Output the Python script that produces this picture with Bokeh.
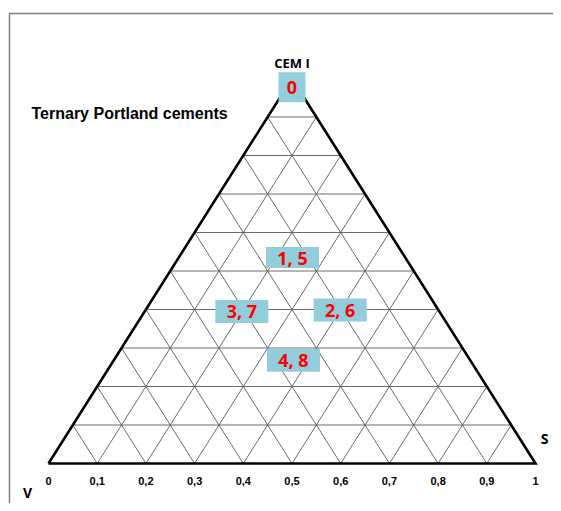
from bokeh.plotting import figure
from bokeh.embed import file_html
from bokeh.resources import INLINE
from bokeh.core.properties import value

# ---- data ----
divisions = [i / 10 for i in range(11)]
tick_labels = ["0", "0,1", "0,2", "0,3", "0,4", "0,5", "0,6", "0,7", "0,8", "0,9", "1"]
point_labels = ["0", "1, 5", "2, 6", "3, 7", "4, 8"]
point_x = [0.5, 0.501, 0.599, 0.397, 0.503]
point_y = [0.977, 0.535, 0.399, 0.395, 0.268]
point_w = [27, 53, 53, 53, 53]
point_h = [30, 21, 23, 23, 23]

XPX, YPX = 487.0, 385.0
W, H = 553, 503
x0c, y0c = 48.0, 463.0  # canvas position of data origin
p = figure(width=W, height=H, output_backend="svg", toolbar_location=None,
           x_range=(-x0c / XPX, (W - x0c) / XPX),
           y_range=(-(H - y0c) / YPX, y0c / YPX),
           min_border=0)
p.axis.visible = False
p.grid.visible = False
p.outline_line_color = None
p.background_fill_color = "white"
p.border_fill_color = "white"

# page frame (left and top edges)
bx = (9 - 48) / XPX
by = (463 - 13) / YPX
p.line([bx, bx, 2.0], [-1.0, by, by], line_color="#808080", line_width=1.5)

# grid lines
gxs, gys = [], []
for t in divisions[1:-1]:
    gxs.append([t / 2, 1 - t / 2]); gys.append([t, t])
    gxs.append([t, t + 0.5 * (1 - t)]); gys.append([0, 1 - t])
    gxs.append([t, t / 2]); gys.append([0, t])
p.multi_line(gxs, gys, line_color="#5a5a5a", line_width=0.9)

# triangle outline
p.line([0, 1, 0.5, 0], [0, 0, 1, 0], line_color="black", line_width=2.6, line_join="miter")

# labelled boxes
p.rect(x=point_x, y=point_y, width=point_w, height=point_h,
       width_units="screen", height_units="screen",
       fill_color="#92CDDC", line_color=None)
p.text(x=point_x, y=point_y, text=point_labels, text_color="#FF0000",
       text_font=value("Open Sans"), text_font_style="bold", text_font_size="18px",
       text_align="center", text_baseline="middle")

# tick labels
p.text(x=divisions, y=[-(480 - 463) / YPX] * len(divisions), text=tick_labels,
       text_color="black", text_font=value("Liberation Sans"), text_font_style="bold",
       text_font_size="11px", text_align="center", text_baseline="middle")

# titles / vertex labels
p.text(x=[0.5], y=[(463 - 62) / YPX], text=["CEM I"], text_color="black",
       text_font=value("Open Sans"), text_font_style="bold", text_font_size="13px",
       text_align="center", text_baseline="middle")
p.text(x=[(31 - 48) / XPX], y=[(463 - 113) / YPX], text=["Ternary Portland cements"],
       text_color="black", text_font=value("Liberation Sans"), text_font_style="bold",
       text_font_size="16px", text_align="left", text_baseline="middle")
p.text(x=[(544 - 48) / XPX], y=[(463 - 438) / YPX], text=["S"], text_color="black",
       text_font=value("Open Sans"), text_font_style="bold", text_font_size="14px",
       text_align="center", text_baseline="middle")
p.text(x=[(27 - 48) / XPX], y=[(463 - 492) / YPX], text=["V"], text_color="black",
       text_font=value("Open Sans"), text_font_style="bold", text_font_size="14px",
       text_align="center", text_baseline="middle")

open("out.html", "w").write(file_html(p, INLINE))
